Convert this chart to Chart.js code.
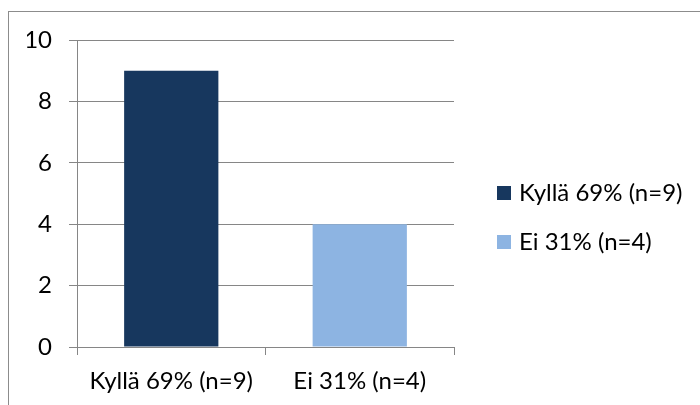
<!DOCTYPE html>
<html>
<head>
<meta charset="utf-8">
<script src="https://cdn.jsdelivr.net/npm/chart.js@4"></script>
<style>
html,body{margin:0;padding:0;background:#fff;}
#wrap{position:relative;width:700px;height:405px;overflow:hidden;}
#frame{position:absolute;left:8px;top:11px;width:800px;height:500px;border-top:1px solid #8c8c8c;border-left:1px solid #8c8c8c;}
canvas{position:absolute;left:0;top:0;}
</style>
</head>
<body>
<div id="wrap">
<div id="frame"></div>
<canvas id="chart" width="700" height="405"></canvas>
</div>
<script>
const categories = ["Kyllä 69% (n=9)", "Ei 31% (n=4)"];
const values = [9, 4];
const colors = ["#17375E", "#8DB4E2"];
const yTicks = [0, 2, 4, 6, 8, 10];

const FONT = "Lato";
const gridGray = "#868686";

// legend drawn to the right of the plot, same look as the office chart
const sideLegend = {
  id: "sideLegend",
  afterDraw: function(chart){
    const ctx = chart.ctx;
    ctx.save();
    ctx.font = "24px " + FONT;
    ctx.textBaseline = "middle";
    ctx.textAlign = "left";
    chart.data.datasets.forEach(function(ds, i){
      const cy = 193 + i * 49;
      ctx.fillStyle = ds.backgroundColor;
      ctx.fillRect(497, cy - 7, 14, 14);
      ctx.fillStyle = "#000";
      ctx.fillText(ds.label, 519, cy);
    });
    ctx.restore();
  }
};

function draw(){
  const datasets = categories.map(function(c, i){
    return {
      label: c,
      data: categories.map(function(_, j){ return j === i ? values[i] : null; }),
      backgroundColor: colors[i],
      borderWidth: 0,
      barPercentage: 0.5,
      categoryPercentage: 1
    };
  });

  new Chart(document.getElementById("chart"), {
    type: "bar",
    data: {
      labels: categories,
      datasets: datasets
    },
    plugins: [sideLegend],
    options: {
      responsive: false,
      animation: false,
      layout: {padding: {left: 27, top: 40, right: 246, bottom: 0}},
      plugins: {
        tooltip: {enabled: false},
        legend: {display: false}
      },
      scales: {
        x: {
          stacked: true,
          afterFit: function(axis){ axis.height = 58; },
          grid: {drawOnChartArea: false, color: gridGray, tickLength: 8},
          border: {color: gridGray},
          ticks: {font: {family: FONT, size: 24}, color: "#000", padding: 12}
        },
        y: {
          min: 0,
          max: 10,
          afterBuildTicks: function(axis){ axis.ticks = yTicks.map(function(v){ return {value: v}; }); },
          afterFit: function(axis){ axis.width = 50; },
          grid: {color: gridGray, tickLength: 8},
          border: {color: gridGray},
          ticks: {font: {family: FONT, size: 24}, color: "#000", padding: 17}
        }
      }
    }
  });
}

document.fonts.load("24px " + FONT).then(draw, draw);
</script>
</body>
</html>
